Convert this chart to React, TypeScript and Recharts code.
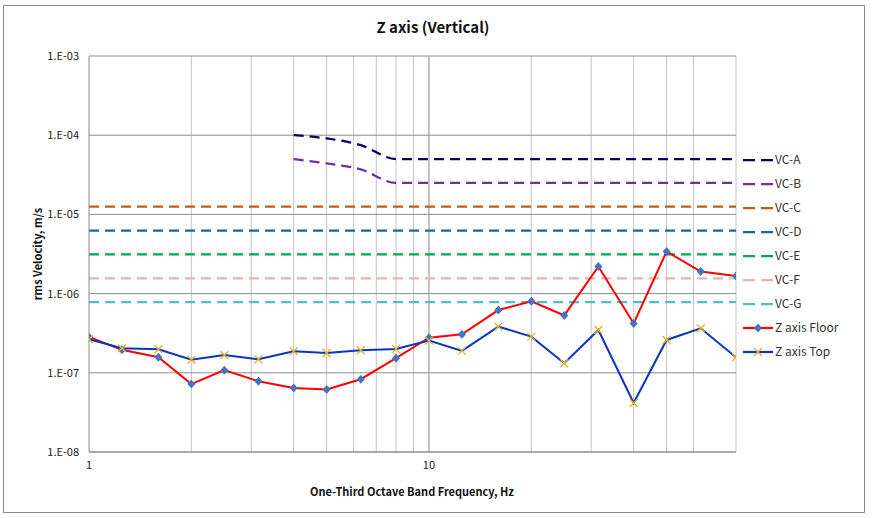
import React from "react";
import { LineChart, Line, XAxis, YAxis, CartesianGrid } from "recharts";

// one-third octave band centre frequencies, Hz
const freqs = [1, 1.25, 1.6, 2, 2.5, 3.15, 4, 5, 6.3, 8, 10, 12.5, 16, 20, 25, 31.5, 40, 50, 63, 80];

// measured rms velocity, m/s
const zFloor = [
  2.84e-7, 1.95e-7, 1.57e-7, 7.2e-8, 1.08e-7, 7.8e-8, 6.45e-8, 6.15e-8, 8.3e-8, 1.53e-7,
  2.78e-7, 3.07e-7, 6.2e-7, 8.0e-7, 5.3e-7, 2.2e-6, 4.2e-7, 3.4e-6, 1.9e-6, 1.67e-6,
];
const zTop = [
  2.65e-7, 2.04e-7, 1.98e-7, 1.46e-7, 1.68e-7, 1.48e-7, 1.87e-7, 1.78e-7, 1.93e-7, 2.0e-7,
  2.55e-7, 1.89e-7, 3.83e-7, 2.86e-7, 1.32e-7, 3.47e-7, 4.15e-8, 2.6e-7, 3.65e-7, 1.57e-7,
];

// VC criteria curves (null = not defined below 4 Hz)
const vcA = [
  null, null, null, null, null, null, 1.0e-4, 9.1e-5, 7.5e-5, 5.0e-5,
  5.0e-5, 5.0e-5, 5.0e-5, 5.0e-5, 5.0e-5, 5.0e-5, 5.0e-5, 5.0e-5, 5.0e-5, 5.0e-5,
];
const vcB = [
  null, null, null, null, null, null, 5.0e-5, 4.4e-5, 3.7e-5, 2.5e-5,
  2.5e-5, 2.5e-5, 2.5e-5, 2.5e-5, 2.5e-5, 2.5e-5, 2.5e-5, 2.5e-5, 2.5e-5, 2.5e-5,
];
const vcC = [
  1.25e-5, 1.25e-5, 1.25e-5, 1.25e-5, 1.25e-5, 1.25e-5, 1.25e-5, 1.25e-5, 1.25e-5, 1.25e-5,
  1.25e-5, 1.25e-5, 1.25e-5, 1.25e-5, 1.25e-5, 1.25e-5, 1.25e-5, 1.25e-5, 1.25e-5, 1.25e-5,
];
const vcD = [
  6.25e-6, 6.25e-6, 6.25e-6, 6.25e-6, 6.25e-6, 6.25e-6, 6.25e-6, 6.25e-6, 6.25e-6, 6.25e-6,
  6.25e-6, 6.25e-6, 6.25e-6, 6.25e-6, 6.25e-6, 6.25e-6, 6.25e-6, 6.25e-6, 6.25e-6, 6.25e-6,
];
const vcE = [
  3.12e-6, 3.12e-6, 3.12e-6, 3.12e-6, 3.12e-6, 3.12e-6, 3.12e-6, 3.12e-6, 3.12e-6, 3.12e-6,
  3.12e-6, 3.12e-6, 3.12e-6, 3.12e-6, 3.12e-6, 3.12e-6, 3.12e-6, 3.12e-6, 3.12e-6, 3.12e-6,
];
const vcF = [
  1.56e-6, 1.56e-6, 1.56e-6, 1.56e-6, 1.56e-6, 1.56e-6, 1.56e-6, 1.56e-6, 1.56e-6, 1.56e-6,
  1.56e-6, 1.56e-6, 1.56e-6, 1.56e-6, 1.56e-6, 1.56e-6, 1.56e-6, 1.56e-6, 1.56e-6, 1.56e-6,
];
const vcG = [
  7.8e-7, 7.8e-7, 7.8e-7, 7.8e-7, 7.8e-7, 7.8e-7, 7.8e-7, 7.8e-7, 7.8e-7, 7.8e-7,
  7.8e-7, 7.8e-7, 7.8e-7, 7.8e-7, 7.8e-7, 7.8e-7, 7.8e-7, 7.8e-7, 7.8e-7, 7.8e-7,
];

const xTicks = [1, 10];
const yTicks = [1e-8, 1e-7, 1e-6, 1e-5, 1e-4, 1e-3];
const minorX = [2, 3, 4, 5, 6, 7, 8, 9, 20, 30, 40, 50, 60, 70, 80];
const majorX = [10];

const vcSeries = [
  { key: "vcA", name: "VC-A", color: "#000066", values: vcA },
  { key: "vcB", name: "VC-B", color: "#7030A0", values: vcB },
  { key: "vcC", name: "VC-C", color: "#C55A11", values: vcC },
  { key: "vcD", name: "VC-D", color: "#0E6BA8", values: vcD },
  { key: "vcE", name: "VC-E", color: "#00A651", values: vcE },
  { key: "vcF", name: "VC-F", color: "#F2AFAF", values: vcF },
  { key: "vcG", name: "VC-G", color: "#45C4C4", values: vcG },
];

const FLOOR_COLOR = "#FF0000";
const TOP_COLOR = "#0A35C0";
const DIAMOND = "#4472C4";
const CROSS = "#E2B628";

const data = freqs.map((f, i) => {
  const row: any = { f, floor: zFloor[i], top: zTop[i] };
  vcSeries.forEach((s) => {
    row[s.key] = s.values[i] == null ? undefined : s.values[i];
  });
  return row;
});

const fmtExp = (v: number) => {
  const e = Math.round(Math.log10(v));
  const abs = Math.abs(e);
  return `1.E${e < 0 ? "-" : "+"}${abs < 10 ? "0" : ""}${abs}`;
};

const FONT = "'Noto Sans CJK KR', 'Noto Sans', sans-serif";

const DiamondDot = (p: any) => {
  const { cx, cy } = p;
  if (cx == null || cy == null) return null;
  return (
    <path
      d={`M${cx},${cy - 4.5}L${cx + 4},${cy}L${cx},${cy + 4.5}L${cx - 4},${cy}Z`}
      fill={DIAMOND}
    />
  );
};

const CrossDot = (p: any) => {
  const { cx, cy } = p;
  if (cx == null || cy == null) return null;
  const r = 4;
  return (
    <path
      d={`M${cx - r},${cy - r}L${cx + r},${cy + r}M${cx - r},${cy + r}L${cx + r},${cy - r}`}
      stroke={CROSS}
      strokeWidth={1.3}
      fill="none"
    />
  );
};

function LegendBox() {
  const rows = [
    ...vcSeries.map((s) => ({ name: s.name, color: s.color, kind: "dash" })),
    { name: "Z axis Floor", color: FLOOR_COLOR, kind: "floor" },
    { name: "Z axis Top", color: TOP_COLOR, kind: "top" },
  ];
  return (
    <svg
      width={120}
      height={230}
      style={{ position: "absolute", left: 738, top: 148, fontFamily: FONT }}
    >
      {rows.map((r, i) => {
        const y = 12 + i * 24;
        return (
          <g key={r.name}>
            <line
              x1={5}
              x2={35}
              y1={y}
              y2={y}
              stroke={r.color}
              strokeWidth={2.25}
              strokeDasharray={r.kind === "dash" ? "12 6" : undefined}
            />
            {r.kind === "floor" && <DiamondDot cx={20} cy={y} />}
            {r.kind === "top" && <CrossDot cx={20} cy={y} />}
            <text x={37} y={y} dy="0.35em" fontSize={12} fill="#333">
              {r.name}
            </text>
          </g>
        );
      })}
    </svg>
  );
}

export default function App() {
  return (
    <div style={{ position: "absolute", left: 0, top: 0, width: 872, height: 518, fontFamily: FONT }}>
      <div
        style={{
          position: "absolute",
          left: 3,
          top: 5,
          width: 860,
          height: 506,
          border: "1.5px solid #8a8a8a",
        }}
      />
      <div
        style={{
          position: "absolute",
          left: 0,
          width: 866,
          top: 16,
          textAlign: "center",
          fontSize: 15,
          fontWeight: 700,
          color: "#111",
        }}
      >
        Z axis (Vertical)
      </div>
      <div
        style={{
          position: "absolute",
          left: 37 - 100,
          top: 254 - 9,
          width: 200,
          height: 18,
          lineHeight: "18px",
          textAlign: "center",
          transform: "rotate(-90deg)",
          fontSize: 11,
          fontWeight: 700,
          color: "#111",
        }}
      >
        rms Velocity, m/s
      </div>
      <div
        style={{
          position: "absolute",
          left: 212,
          width: 400,
          top: 483,
          textAlign: "center",
          fontSize: 11,
          fontWeight: 700,
          color: "#111",
        }}
      >
        One-Third Octave Band Frequency, Hz
      </div>
      <div style={{ position: "absolute", left: 0, top: 0 }}>
        <LineChart
          width={872}
          height={518}
          data={data}
          margin={{ top: 56, right: 136, bottom: 36, left: 29 }}
        >
          <CartesianGrid
            horizontal={false}
            verticalValues={minorX}
            stroke="#c4c4c4"
            strokeWidth={1}
          />
          <CartesianGrid
            vertical={true}
            verticalValues={majorX}
            horizontalValues={yTicks}
            stroke="#8c8c8c"
            strokeWidth={1}
          />
          <XAxis
            dataKey="f"
            type="number"
            scale="log"
            domain={[1, 80]}
            allowDataOverflow
            ticks={xTicks}
            tickLine={false}
            tickSize={0}
            tickMargin={9}
            height={30}
            axisLine={{ stroke: "#8c8c8c" }}
            tick={{ fontSize: 11, fill: "#222", fontFamily: FONT }}
          />
          <YAxis
            type="number"
            scale="log"
            domain={[1e-8, 1e-3]}
            allowDataOverflow
            ticks={yTicks}
            tickFormatter={fmtExp}
            tickLine={false}
            tickSize={0}
            tickMargin={10}
            width={60}
            axisLine={{ stroke: "#8c8c8c" }}
            tick={{ fontSize: 11, fill: "#222", fontFamily: FONT }}
          />
          {vcSeries.map((s) => (
            <Line
              key={s.key}
              dataKey={s.key}
              type="monotoneX"
              stroke={s.color}
              strokeWidth={2.25}
              strokeDasharray="10 6"
              dot={false}
              activeDot={false}
              isAnimationActive={false}
            />
          ))}
          <Line
            dataKey="floor"
            type="linear"
            stroke={FLOOR_COLOR}
            strokeWidth={2}
            dot={<DiamondDot />}
            activeDot={false}
            isAnimationActive={false}
          />
          <Line
            dataKey="top"
            type="linear"
            stroke={TOP_COLOR}
            strokeWidth={2}
            dot={<CrossDot />}
            activeDot={false}
            isAnimationActive={false}
          />
        </LineChart>
      </div>
      <LegendBox />
    </div>
  );
}
